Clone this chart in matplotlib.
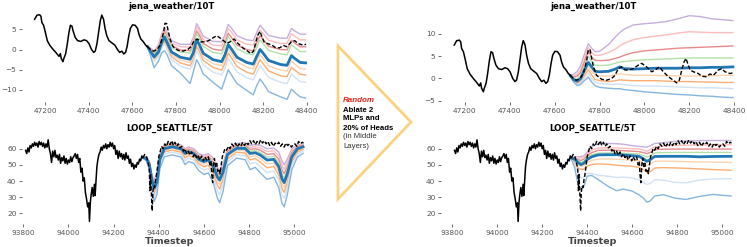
import matplotlib.pyplot as plt
from matplotlib.patches import Polygon

# ---------------- jena_weather/10T : context + ground truth ----------------
jena_ctx_t = [47152, 47163, 47175, 47181, 47185, 47193, 47200, 47210, 47222, 47237, 47249, 47255,
              47264, 47270, 47274, 47282, 47286, 47294, 47301, 47309, 47316, 47323, 47329, 47338,
              47349, 47364, 47378, 47390, 47401, 47413, 47423, 47430, 47438, 47445, 47453, 47460,
              47468, 47475, 47483, 47493, 47505, 47520, 47532, 47542, 47552, 47561, 47569, 47576,
              47584, 47591, 47601, 47613, 47624, 47631, 47639, 47651, 47661, 47670]
jena_ctx_v = [7.5, 8.5, 8.6, 8.2, 6.7, 6.0, 4.5, 2.2, 1.0, 0.0, -0.7, -1.1,
              -1.7, -1.0, -2.2, -3.0, -2.2, -1.1, 1.1, 4.1, 6.0, 5.8, 4.5, 3.0,
              2.2, 2.0, 2.4, 2.2, 1.5, 0.0, -0.7, -0.4, 1.5, 4.1, 7.1, 8.5,
              7.5, 5.2, 3.4, 2.2, 1.7, 1.1, 0.0, -0.7, -0.4, -1.1, -0.7, 0.7,
              3.4, 5.2, 6.1, 6.0, 5.2, 3.7, 2.6, 1.9, 1.1, 0.7]
jena_true_t = [47670, 47683, 47698, 47713, 47728, 47743, 47750, 47758, 47765, 47773, 47787, 47810,
               47832, 47854, 47869, 47884, 47899, 47914, 47929, 47951, 47973, 47988, 48010, 48033,
               48048, 48067, 48085, 48107, 48129, 48144, 48156, 48167, 48177, 48186, 48193, 48204,
               48219, 48241, 48256, 48275, 48293, 48308, 48330, 48345, 48360, 48382, 48397]
jena_true_v = [0.7, 0.0, -0.4, 0.0, 1.1, 4.1, 6.5, 6.4, 4.5, 2.6, 0.7, -0.2,
               -0.4, 0.0, 0.7, 2.2, 2.6, 1.9, 1.9, 2.2, 3.0, 3.4, 2.6, 1.5,
               1.9, 2.6, 1.5, 0.4, -0.4, -1.0, -0.4, 1.9, 3.7, 4.5, 3.4, 1.9,
               1.5, 1.1, 0.5, 0.4, 1.0, 0.7, 1.9, 2.2, 1.5, 1.1, 1.3]

# jena, left (Random ablation) forecast quantiles
jl_t = [47670, 47685, 47700, 47720, 47735, 47748, 47760, 47780, 47820, 47865, 47880, 47895,
        47907, 47925, 47970, 48010, 48025, 48040, 48055, 48080, 48125, 48155, 48170, 48186,
        48200, 48225, 48280, 48310, 48330, 48345, 48370, 48395]
jl_q90 = [0.7, 0.4, -0.4, 1.2, 3.9, 5.4, 4.2, 2.2, 1.3, 1.3, 3.0, 6.4, 5.3, 3.3, 2.0, 1.9,
          3.7, 6.2, 5.3, 3.4, 2.4, 2.2, 4.1, 6.0, 5.1, 3.5, 2.8, 2.8, 5.2, 4.6, 3.8, 3.8]
jl_q80 = [0.7, 0.2, -0.7, 0.9, 3.5, 5.0, 3.7, 1.6, 0.7, 0.6, 2.3, 5.6, 4.5, 2.5, 1.1, 0.9,
          2.7, 5.2, 4.3, 2.4, 1.3, 1.1, 2.9, 4.8, 3.9, 2.3, 1.5, 1.5, 3.9, 3.3, 2.4, 2.4]
jl_q70 = [0.7, 0.0, -1.0, 0.4, 3.0, 4.4, 3.1, 1.0, -0.1, -0.3, 1.4, 4.6, 3.6, 1.5, 0.1, -0.2,
          1.5, 4.0, 3.0, 1.1, 0.0, -0.3, 1.5, 3.4, 2.5, 0.8, 0.0, -0.1, 2.3, 1.6, 0.7, 0.7]
jl_q60 = [0.7, -0.2, -1.2, 0.1, 2.6, 4.0, 2.7, 0.5, -0.6, -0.9, 0.7, 4.0, 2.9, 0.8, -0.7, -1.1,
          0.7, 3.2, 2.1, 0.2, -1.0, -1.3, 0.5, 2.4, 1.5, -0.2, -1.1, -1.3, 1.2, 0.5, -0.5, -0.5]
jl_q50 = [0.7, -0.6, -1.8, -0.6, 1.8, 3.1, 1.7, -0.6, -1.9, -2.4, -0.8, 2.4, 1.3, -0.9, -2.5, -3.0,
          -1.3, 1.2, 0.1, -1.9, -3.2, -3.6, -1.8, 0.0, -0.9, -2.7, -3.7, -3.9, -1.5, -2.2, -3.2, -3.3]
jl_q40 = [0.7, -0.8, -2.1, -1.0, 1.3, 2.6, 1.2, -1.2, -2.6, -3.2, -1.6, 1.6, 0.4, -1.8, -3.5, -4.0,
          -2.4, 0.1, -1.0, -3.0, -4.4, -4.8, -3.0, -1.3, -2.2, -4.0, -5.1, -5.3, -2.9, -3.6, -4.7, -4.8]
jl_q30 = [0.7, -1.0, -2.4, -1.4, 0.9, 2.1, 0.6, -1.8, -3.3, -4.0, -2.4, 0.7, -0.4, -2.7, -4.4, -5.1,
          -3.4, -0.9, -2.1, -4.2, -5.6, -6.1, -4.3, -2.5, -3.5, -5.3, -6.5, -6.7, -4.4, -5.1, -6.1, -6.3]
jl_q20 = [0.7, -1.3, -2.8, -1.8, 0.4, 1.5, 0.0, -2.5, -4.1, -4.9, -3.4, -0.3, -1.4, -3.7, -5.6, -6.3,
          -4.7, -2.2, -3.4, -5.5, -7.0, -7.5, -5.8, -4.0, -5.0, -6.9, -8.1, -8.4, -6.1, -6.8, -7.9, -8.1]
jl_q10 = [0.7, -1.8, -4.5, -2.9, -0.8, -0.3, -1.3, -4.0, -5.8, -8.4, -5.5, -2.5, -3.7, -6.0, -8.1, -9.8,
          -7.4, -5.0, -6.3, -8.4, -10.1, -11.2, -9.0, -7.3, -8.3, -10.4, -11.7, -12.3, -9.8, -10.6, -11.7, -12.0]

# jena, right (original model) forecast quantiles
jr_t = [47670, 47685, 47700, 47715, 47730, 47750, 47765, 47780, 47800, 47840, 47870, 47890,
        47910, 47950, 48000, 48050, 48100, 48150, 48200, 48250, 48300, 48350, 48395]
jr_q90 = [0.7, 1.0, 1.5, 2.8, 5.0, 7.8, 6.8, 6.0, 6.1, 7.6, 9.3, 10.3,
          11.1, 12.0, 12.3, 12.5, 12.8, 13.4, 14.1, 13.9, 13.4, 13.2, 13.0]
jr_q80 = [0.7, 0.6, 0.9, 1.8, 4.0, 7.0, 5.8, 5.2, 5.2, 5.8, 6.6, 7.3,
          7.9, 8.7, 9.2, 9.5, 9.8, 10.2, 10.5, 10.4, 10.3, 10.3, 10.3]
jr_q70 = [0.7, 0.3, 0.5, 1.3, 3.3, 6.2, 4.8, 4.1, 4.0, 4.1, 4.5, 4.8,
          5.2, 5.8, 6.2, 6.4, 6.6, 6.8, 6.9, 7.0, 7.1, 7.2, 7.3]
jr_q60 = [0.7, 0.1, -0.1, 0.6, 2.5, 5.0, 3.8, 3.0, 2.9, 3.0, 3.4, 3.7,
          3.8, 4.0, 4.2, 4.3, 4.4, 4.5, 4.6, 4.6, 4.6, 4.6, 4.6]
jr_q50 = [0.6, -0.3, -0.6, -0.1, 1.6, 3.6, 2.6, 1.6, 1.5, 1.6, 2.1, 2.6,
          2.2, 2.1, 2.2, 2.3, 2.3, 2.3, 2.4, 2.4, 2.5, 2.5, 2.6]
jr_q40 = [0.6, -0.5, -0.9, -0.5, 0.9, 2.7, 1.6, 0.8, 0.6, 0.5, 0.8, 1.1,
          0.9, 0.7, 0.7, 0.7, 0.6, 0.6, 0.5, 0.6, 0.6, 0.7, 0.7]
jr_q30 = [0.6, -0.6, -1.1, -0.8, 0.4, 2.0, 0.8, -0.2, -0.5, -0.7, -0.5, -0.3,
          -0.4, -0.5, -0.5, -0.5, -0.6, -0.7, -0.7, -0.8, -0.8, -0.9, -0.9]
jr_q20 = [0.6, -0.7, -1.4, -1.1, -0.1, 1.1, 0.0, -0.8, -1.1, -1.3, -1.3, -1.2,
          -1.4, -1.6, -1.7, -1.7, -1.8, -1.9, -2.0, -2.1, -2.1, -2.2, -2.3]
jr_q10 = [0.6, -0.8, -1.6, -1.4, -0.6, 0.3, -0.8, -1.6, -2.0, -2.2, -2.3, -2.3,
          -2.5, -2.7, -3.0, -3.2, -3.4, -3.6, -3.7, -3.9, -4.0, -4.2, -4.3]

# ---------------- LOOP_SEATTLE/5T : context + ground truth ----------------
loop_ctx_t = [93810, 93815, 93820, 93825, 93830, 93835, 93840, 93845, 93850, 93855, 93860, 93865,
              93870, 93875, 93880, 93885, 93890, 93895, 93900, 93905, 93910, 93915, 93920, 93925,
              93930, 93935, 93940, 93945, 93950, 93955, 93960, 93965, 93970, 93975, 93980, 93985,
              93990, 93995, 94000, 94005, 94010, 94015, 94020, 94025, 94030, 94035, 94040, 94045,
              94050, 94055, 94060, 94065, 94070, 94075, 94080, 94085, 94090, 94093, 94097, 94100,
              94105, 94110, 94115, 94118, 94122, 94126, 94130, 94135, 94140, 94145, 94150, 94155,
              94160, 94165, 94170, 94175, 94180, 94185, 94190, 94195, 94200, 94205, 94210, 94215,
              94220, 94225, 94230, 94235, 94240, 94245, 94250, 94255, 94260, 94265, 94270, 94275,
              94280, 94285, 94290, 94295, 94300, 94305, 94310, 94315, 94320, 94325, 94330]
loop_ctx_v = [59.0, 57.0, 60.5, 58.0, 62.0, 60.5, 63.0, 61.5, 64.0, 62.0, 63.5, 61.0,
              64.5, 62.5, 64.0, 61.5, 63.5, 60.5, 63.0, 61.0, 65.5, 60.0, 57.0, 51.5,
              58.5, 55.0, 59.0, 54.5, 56.0, 53.0, 56.5, 51.0, 54.5, 52.5, 55.5, 51.0,
              54.0, 50.5, 53.0, 51.5, 55.0, 52.0, 54.5, 55.5, 57.0, 54.0, 56.5, 51.5,
              54.0, 45.5, 48.0, 40.0, 42.0, 33.0, 29.0, 24.0, 26.5, 15.0, 27.0, 31.0,
              36.0, 30.5, 38.0, 31.0, 40.0, 49.0, 53.0, 56.5, 58.0, 61.0, 59.0, 62.0,
              60.5, 63.0, 60.0, 62.5, 61.0, 64.0, 61.5, 63.5, 60.0, 62.0, 56.5, 59.0,
              54.0, 58.5, 55.0, 57.0, 53.5, 56.5, 53.0, 57.5, 54.0, 55.5, 51.0, 53.5,
              49.0, 51.0, 47.5, 50.0, 48.5, 51.5, 50.5, 53.5, 52.5, 55.5, 54.5]
loop_true_t = [94330, 94338, 94346, 94353, 94358, 94361, 94364, 94368, 94371, 94374, 94377, 94382,
               94386, 94390, 94395, 94400, 94406, 94412, 94420, 94427, 94435, 94442, 94450, 94458,
               94465, 94472, 94480, 94487, 94494, 94502, 94510, 94516, 94524, 94531, 94538, 94546,
               94553, 94560, 94568, 94575, 94582, 94590, 94598, 94605, 94612, 94620, 94627, 94632,
               94635, 94639, 94643, 94647, 94652, 94657, 94662, 94667, 94672, 94677, 94682, 94687,
               94693, 94700, 94709, 94716, 94724, 94732, 94740, 94748, 94756, 94764, 94772, 94780,
               94788, 94796, 94804, 94812, 94820, 94828, 94836, 94844, 94852, 94860, 94868, 94876,
               94884, 94892, 94900, 94908, 94916, 94924, 94932, 94940, 94948, 94956, 94964, 94972,
               94980, 94988, 94996, 95004, 95012, 95020, 95028, 95036, 95042]
loop_true_v = [54.5, 56.5, 55.0, 51.0, 48.0, 34.0, 44.0, 30.0, 21.5, 33.0, 37.0, 36.0,
               41.0, 44.0, 49.0, 55.0, 58.0, 61.5, 60.0, 63.0, 61.5, 64.5, 62.5, 65.0,
               62.0, 64.0, 61.5, 63.0, 60.5, 61.5, 58.5, 60.0, 57.0, 58.5, 56.0, 58.0,
               55.0, 57.0, 54.5, 56.0, 53.0, 55.5, 52.5, 55.0, 53.0, 55.0, 50.0, 52.0,
               44.0, 39.0, 50.0, 54.0, 49.0, 51.0, 46.0, 47.5, 44.5, 50.0, 55.0, 57.0,
               60.0, 59.0, 61.5, 60.0, 63.0, 61.5, 63.5, 61.0, 63.0, 61.5, 64.0, 62.0,
               64.0, 62.5, 65.0, 63.0, 65.0, 62.5, 64.5, 63.0, 65.5, 63.5, 65.0, 63.0,
               64.5, 62.0, 64.0, 61.5, 63.5, 62.5, 64.0, 61.5, 63.0, 61.0, 63.5, 62.0,
               63.0, 61.0, 62.5, 63.0, 61.5, 64.5, 63.0, 64.0, 63.5]

# loop, left (Random ablation) forecast quantiles
ll_t = [94330, 94345, 94358, 94370, 94380, 94392, 94405, 94425, 94460, 94500, 94517, 94532,
        94555, 94578, 94600, 94620, 94642, 94660, 94670, 94685, 94705, 94745, 94783, 94805,
        94828, 94850, 94880, 94910, 94932, 94946, 94956, 94970, 94990, 95015, 95040]
ll_q90 = [55.1, 55.0, 52.5, 44.0, 40.5, 44.5, 56.5, 62.5, 63.7, 62.3, 60.1, 61.1,
          60.0, 56.9, 56.0, 57.0, 53.9, 48.5, 46.6, 50.5, 60.0, 63.2, 63.7, 62.1,
          62.5, 62.1, 60.0, 60.4, 57.9, 52.5, 50.0, 53.5, 60.0, 62.5, 62.7]
ll_q80 = [55.0, 54.8, 52.0, 43.1, 39.3, 43.3, 55.8, 61.9, 63.1, 61.7, 59.4, 60.4,
          59.3, 56.0, 55.0, 56.0, 52.7, 47.0, 45.1, 49.3, 59.1, 62.5, 62.8, 60.9,
          61.3, 60.6, 58.3, 58.7, 55.7, 49.8, 47.3, 51.3, 58.8, 61.9, 62.3]
ll_q70 = [54.9, 54.5, 51.5, 42.3, 38.0, 42.0, 55.0, 61.3, 62.5, 61.1, 58.6, 59.6,
          58.5, 55.2, 54.0, 55.0, 51.4, 45.5, 43.6, 48.0, 58.3, 61.7, 62.0, 59.6,
          60.0, 59.1, 56.5, 56.9, 53.4, 47.0, 44.5, 49.0, 57.5, 61.3, 62.0]
ll_q60 = [54.7, 54.3, 51.0, 41.4, 36.8, 40.8, 54.3, 60.6, 61.8, 60.4, 57.9, 58.9,
          57.8, 54.3, 53.0, 54.0, 50.2, 44.0, 42.1, 46.8, 57.4, 61.0, 61.1, 58.4,
          58.8, 57.6, 54.8, 55.2, 51.2, 44.3, 41.8, 46.8, 56.3, 60.6, 61.6]
ll_q50 = [54.6, 54.0, 50.5, 40.5, 35.5, 39.5, 53.5, 60.0, 61.2, 59.8, 57.1, 58.1,
          57.0, 53.4, 52.0, 53.0, 48.9, 42.5, 40.6, 45.5, 56.5, 60.2, 60.2, 57.1,
          57.5, 56.1, 53.0, 53.4, 48.9, 41.5, 39.0, 44.5, 55.0, 60.0, 61.2]
ll_q40 = [54.5, 53.7, 49.9, 39.3, 33.9, 37.9, 52.3, 59.0, 60.2, 58.8, 55.7, 56.9,
          55.8, 52.0, 50.4, 51.4, 46.9, 39.9, 37.8, 43.1, 55.1, 59.0, 58.8, 55.1,
          55.7, 53.9, 50.6, 51.2, 46.3, 38.5, 36.0, 41.9, 53.4, 59.0, 60.4]
ll_q30 = [54.4, 53.4, 49.3, 38.1, 32.3, 36.3, 51.1, 58.0, 59.2, 57.8, 54.3, 55.7,
          54.6, 50.6, 48.8, 49.8, 44.9, 37.3, 35.0, 40.7, 53.7, 57.8, 57.4, 53.1,
          53.9, 51.7, 48.2, 49.0, 43.7, 35.5, 33.0, 39.3, 51.8, 58.0, 59.6]
ll_q20 = [54.3, 53.0, 48.5, 36.6, 30.3, 34.3, 49.6, 56.7, 57.9, 56.5, 52.5, 54.2,
          53.1, 48.8, 46.8, 47.8, 42.4, 34.0, 31.5, 37.7, 51.9, 56.3, 55.6, 50.6,
          51.6, 48.9, 45.2, 46.2, 40.4, 31.7, 29.2, 36.0, 49.8, 56.7, 58.6]
ll_q10 = [54.1, 52.5, 47.5, 34.5, 27.5, 31.5, 47.5, 55.0, 56.2, 54.8, 50.1, 52.1,
          51.0, 46.4, 44.0, 45.0, 38.9, 29.5, 26.6, 33.5, 49.5, 54.2, 53.2, 47.1,
          48.5, 45.1, 41.0, 42.4, 35.9, 26.5, 24.0, 31.5, 47.0, 55.0, 57.2]

# loop, right (original model) forecast quantiles
lr_t = [94330, 94345, 94360, 94372, 94385, 94400, 94420, 94450, 94490, 94530, 94560, 94600,
        94630, 94650, 94665, 94680, 94700, 94740, 94790, 94840, 94900, 94960, 95040]
lr_q90 = [54.6, 54.8, 55.0, 55.2, 55.6, 58.0, 61.5, 63.1, 63.3, 63.1, 62.8, 61.9,
          61.5, 61.2, 61.0, 61.8, 63.2, 63.8, 64.5, 64.8, 65.0, 65.1, 65.1]
lr_q80 = [54.5, 54.4, 54.2, 54.3, 54.8, 56.8, 59.2, 60.4, 60.6, 60.5, 60.3, 60.0,
          59.8, 59.2, 58.4, 59.5, 61.2, 61.8, 62.0, 62.2, 62.3, 62.4, 62.5]
lr_q70 = [54.4, 54.1, 53.2, 52.8, 53.5, 55.6, 57.6, 59.0, 59.1, 59.0, 58.8, 58.5,
          58.2, 57.6, 57.0, 57.6, 59.5, 59.7, 59.8, 59.8, 59.8, 59.8, 59.8]
lr_q60 = [54.4, 53.8, 52.5, 51.6, 52.3, 54.5, 56.3, 57.3, 57.4, 57.4, 57.2, 57.0,
          56.8, 55.8, 54.8, 55.6, 57.4, 57.6, 57.7, 57.7, 57.7, 57.7, 57.7]
lr_q50 = [54.3, 53.5, 51.5, 50.2, 51.0, 53.3, 55.0, 56.2, 56.3, 56.3, 56.1, 55.7,
          55.3, 53.8, 52.2, 53.2, 55.2, 55.3, 55.3, 55.3, 55.0, 55.2, 55.3]
lr_q40 = [54.1, 52.5, 50.2, 49.0, 49.6, 51.4, 52.8, 53.6, 53.6, 53.5, 53.3, 52.9,
          52.5, 51.2, 49.6, 50.5, 52.2, 52.3, 52.2, 52.0, 51.8, 51.7, 51.6]
lr_q30 = [54.0, 51.5, 48.1, 47.1, 47.3, 49.3, 50.2, 50.6, 50.4, 49.8, 49.5, 49.2,
          48.4, 47.2, 45.5, 45.6, 48.1, 48.3, 48.1, 47.9, 47.5, 47.1, 46.7]
lr_q20 = [53.8, 50.0, 45.0, 42.0, 42.2, 44.8, 44.6, 43.6, 43.0, 42.2, 42.4, 41.9,
          40.8, 39.2, 38.0, 38.4, 40.8, 40.5, 39.2, 38.9, 40.6, 41.2, 41.5]
lr_q10 = [53.5, 48.0, 37.5, 34.8, 36.5, 43.0, 43.5, 40.8, 37.0, 34.0, 35.0, 33.8,
          31.5, 29.5, 27.0, 27.6, 30.7, 31.5, 29.4, 28.6, 30.5, 31.7, 30.7]

jena_xticks = [47200, 47400, 47600, 47800, 48000, 48200, 48400]
loop_xticks = [93800, 94000, 94200, 94400, 94600, 94800, 95000]

# colours for the 0.9 .. 0.1 quantile lines (median drawn separately)
q_colors = ['#c6aedd', '#fbbdbd', '#e8898a', '#b3e0a8', None,
            '#fdd3b0', '#fdad72', '#d2e2f4', '#86b6df']


def draw(ax, ctx_t, ctx_v, true_t, true_v, fc_t, quants, title, xticks, yticks, xlim, ylim,
         xlabel=False, tpad=2):
    ax.plot(ctx_t, ctx_v, color='black', lw=1.1, zorder=5)
    for q, c in zip(quants, q_colors):
        if c is not None:
            ax.plot(fc_t, q, color=c, lw=1.0, zorder=2)
    ax.plot(fc_t, quants[4], color='#1f77b4', lw=2.0, zorder=3)
    ax.plot(true_t, true_v, color='black', lw=1.0, ls=(0, (3, 1.5)), zorder=4)
    ax.set_title(title, fontsize=6.2, fontweight='bold', pad=tpad)
    ax.set_xticks(xticks)
    ax.set_yticks(yticks)
    ax.set_xlim(xlim)
    ax.set_ylim(ylim)
    ax.tick_params(labelsize=5.3, colors='#555555', length=2.5, width=0.6, pad=1.5)
    for s in ax.spines.values():
        s.set_visible(False)
    if xlabel:
        ax.set_xlabel('Timestep', fontsize=6.8, fontweight='bold', color='#444444', labelpad=1)


fig = plt.figure(figsize=(7.47, 2.47), dpi=100)
W, H = 747.0, 247.0


def box(x0, y0, x1, y1):
    return [x0 / W, 1 - y1 / H, (x1 - x0) / W, (y1 - y0) / H]


ax1 = fig.add_axes(box(22, 12, 320, 102))
ax2 = fig.add_axes(box(22, 135, 318, 224))
ax3 = fig.add_axes(box(441, 12, 745, 102))
ax4 = fig.add_axes(box(441, 135, 745, 224))

draw(ax1, jena_ctx_t, jena_ctx_v, jena_true_t, jena_true_v, jl_t,
     [jl_q90, jl_q80, jl_q70, jl_q60, jl_q50, jl_q40, jl_q30, jl_q20, jl_q10],
     'jena_weather/10T', jena_xticks, [-10, -5, 0, 5], (47094, 48461), (-12.97, 9.28))
draw(ax2, loop_ctx_t, loop_ctx_v, loop_true_t, loop_true_v, ll_t,
     [ll_q90, ll_q80, ll_q70, ll_q60, ll_q50, ll_q40, ll_q30, ll_q20, ll_q10],
     'LOOP_SEATTLE/5T', loop_xticks, [20, 30, 40, 50, 60], (93794, 95106), (13.4, 68.5),
     xlabel=True, tpad=3)
draw(ax3, jena_ctx_t, jena_ctx_v, jena_true_t, jena_true_v, jr_t,
     [jr_q90, jr_q80, jr_q70, jr_q60, jr_q50, jr_q40, jr_q30, jr_q20, jr_q10],
     'jena_weather/10T', jena_xticks, [-5, 0, 5, 10, 15], (47093, 48449), (-5.29, 14.93))
draw(ax4, loop_ctx_t, loop_ctx_v, loop_true_t, loop_true_v, lr_t,
     [lr_q90, lr_q80, lr_q70, lr_q60, lr_q50, lr_q40, lr_q30, lr_q20, lr_q10],
     'LOOP_SEATTLE/5T', loop_xticks, [20, 30, 40, 50, 60], (93750, 95102), (13.4, 68.5),
     xlabel=True, tpad=3)

# arrow-like triangle in the middle with the ablation description
tri = Polygon([(338 / W, 1 - 46 / H), (338 / W, 1 - 199 / H), (411 / W, 1 - 122 / H)],
              closed=True, fill=False, edgecolor='#fbd27f', lw=2.0, transform=fig.transFigure)
fig.add_artist(tri)
tx = 343 / W
fam = ['Liberation Sans', 'DejaVu Sans']
fig.text(tx, 1 - 101 / H, 'Random', color='#e8231b', fontsize=5.8, fontweight='bold',
         fontstyle='italic', va='center', family=fam)
for i, line in enumerate(['Ablate 2', 'MLPs and', '20% of Heads']):
    fig.text(tx, 1 - (110 + 9 * i) / H, line, color='black', fontsize=5.6,
             fontweight='bold', va='center', family=fam)
for i, line in enumerate(['(in Middle', 'Layers)']):
    fig.text(tx, 1 - (137 + 9 * i) / H, line, color='#333333', fontsize=5.6, va='center',
             family=fam)

fig.savefig('out.png', dpi=100)
